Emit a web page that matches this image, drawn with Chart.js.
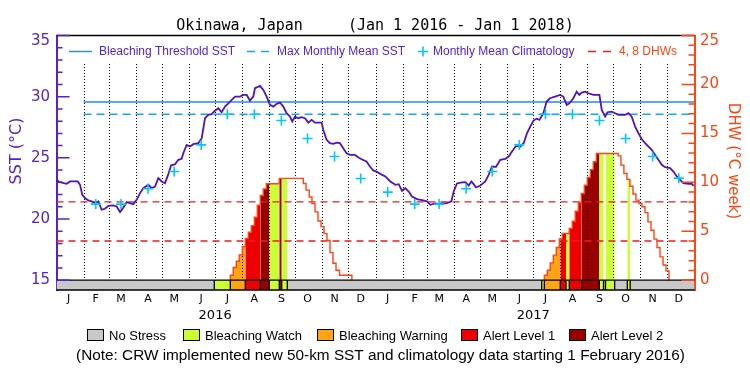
<!DOCTYPE html>
<html><head><meta charset="utf-8">
<script src="https://cdn.jsdelivr.net/npm/chart.js@4.4.1/dist/chart.umd.min.js"></script>
<style>html,body{margin:0;padding:0;background:#fff}canvas{display:block}</style>
</head><body>
<canvas id="c" width="750" height="375"></canvas>
<script>
// ---------------- data ----------------
const monthLetters = ['J','F','M','A','M','J','J','A','S','O','N','D','J','F','M','A','M','J','J','A','S','O','N','D'];
const monthStartDays = [0,31,60,91,121,152,182,213,244,274,305,335,366,397,425,456,486,517,547,578,609,639,670,700];
const yearLabels = ['2016','2017'];
const yearLabelDays = [182,547];
const sstTicks = [15,20,25,30,35];
const dhwTicks = [0,5,10,15,20,25];

// daily SST (days since 1 Jan 2016)
const sstDays = [0,4,11.7,15.5,24.3,27,29.6,32.7,36.5,40.3,44.2,48,51.8,55.6,59.5,65.2,69,72.9,76.7,80.5,84.3,88.1,92,95.8,99.6,105.4,109.2,113,116.8,120.7,124.5,128.3,131.4,136,139.8,143.6,145.5,149.3,153.2,157,162.7,166.6,168.5,170.4,174.2,178,181.8,185.7,189.5,193.3,199.1,204.8,210.5,214.4,218.2,222,225.8,227.7,233.5,237.3,241.1,244.9,248.8,252.6,256.4,260.2,264,267.9,270.5,273.6,277.4,281.2,285,288.9,292.7,296.5,304.2,306.1,309.9,313.7,317.5,321.4,325.2,329,332.8,336.6,342.4,346.2,350,355.7,359.6,363.4,367,371.5,377.3,383,388.8,392.6,396.4,400.2,404.1,407.9,413.6,419.4,425.1,428.9,434.7,438.5,442.3,448,453,455.7,459.5,465.3,469.1,472.9,476,478.6,481.3,486.3,492,495.8,499.7,504.3,509.2,515,518.8,522.6,527.2,532.2,536,539.8,543.5,547.3,550.9,554,558.6,562.4,566.2,572,577.7,581.5,585.4,588.4,593,596.8,599.9,602.6,606.4,610.2,616,622.9,625.6,629.4,632.1,637,640.9,644.7,652.4,656.2,660,663.9,667.7,671.5,675.3,679.2,683,686.8,690.6,694.5,698.3,704,707.8,711.7,715.5,719.3,725,728.9,731];
const sstValues = [23.20,23.01,22.88,23.07,23.07,22.80,21.98,21.71,21.52,21.44,21.30,21.44,20.76,20.84,21.08,21.11,21.03,20.57,20.95,21.38,21.30,21.22,21.57,22.12,22.52,22.80,22.52,22.66,23.34,23.07,22.93,23.67,24.37,24.48,24.84,24.92,25.38,26.06,25.93,26.12,26.20,26.61,27.42,28.24,28.51,28.57,28.85,29.05,28.73,29.19,29.60,30.01,30.01,30.14,30.14,29.68,30.01,30.69,30.88,30.55,30.01,29.33,29.19,29.41,29.52,29.19,28.65,28.37,27.97,28.37,28.24,28.32,28.24,27.88,28.10,27.88,27.88,27.28,26.47,26.20,26.14,26.25,26.20,25.79,25.38,25.24,25.24,25.05,24.89,24.70,24.29,23.97,23.88,23.69,23.48,23.07,22.80,22.85,22.31,22.52,22.25,21.84,21.63,21.54,21.44,21.16,21.27,21.22,21.27,21.30,21.44,22.25,22.91,22.99,23.01,22.74,23.07,22.85,22.58,22.74,23.07,23.61,24.29,24.27,24.84,24.92,25.11,25.52,25.98,25.93,26.20,27.01,27.55,28.05,28.20,28.10,28.65,29.60,29.87,30.01,30.14,30.01,29.33,29.46,29.87,30.41,30.14,30.33,30.41,30.28,30.14,30.14,28.92,28.37,28.73,28.78,28.65,28.51,28.51,28.65,28.37,27.56,27.01,26.52,26.20,25.92,25.65,25.24,24.84,24.43,24.24,24.16,23.88,23.48,23.20,22.93,22.88,22.88,22.71];

// monthly mean climatology (Feb 2016 .. Dec 2017, plotted mid-month)
const climMonthIndex = [1,2,3,4,5,6,7,8,9,10,11,12,13,14,15,16,17,18,19,20,21,22,23];
const climValues = [21.22,21.22,22.47,23.88,26.06,28.56,28.56,28.05,26.58,25.11,23.31,22.20,21.22,21.22,22.47,23.88,26.06,28.56,28.56,28.05,26.58,25.11,23.34];
const mmmSST = 28.56;
const thresholdSST = 29.56;
const thresholdStartDay = 31;
const dhwLevels = [4,8];

// degree heating weeks step function: day a new value starts, value
const dhwStepDays = [199.4,202.8,206.3,209.7,213.2,216.6,220.1,223.5,227.0,230.4,233.8,237.3,240.7,255.6,283.2,286.3,290.0,293.1,296.6,300.0,303.5,306.9,310.3,313.8,317.2,320.7,324.7,338.9,
  559.7,563.1,566.5,570.0,573.4,576.9,580.3,588.3,591.8,595.2,598.7,602.1,605.6,609.0,612.5,615.9,619.3,644.5,647.6,651.0,654.5,657.9,661.4,664.8,668.3,671.7,675.2,678.6,682.1,685.5,689.0,692.4,695.9,699.3,702.7];
const dhwStepValues = [0.51,1.30,1.94,2.59,3.44,4.26,4.90,5.58,6.44,7.67,8.66,9.33,9.85,10.40,9.88,9.20,8.50,7.84,6.98,6.05,5.47,4.76,4.05,2.82,1.73,1.02,0.51,0,
  0.51,1.02,1.77,2.56,3.34,4.22,4.77,5.28,6.03,7.05,7.94,8.86,9.71,10.50,11.30,12.10,12.95,12.70,11.76,10.90,10.30,9.60,8.80,8.18,7.84,7.50,6.90,5.96,5.10,4.20,3.34,2.38,1.56,0.95,0];

// bleaching alert status segments (1 watch, 2 warning, 3 alert 1, 4 alert 2)
const statusStart = [181,199.4,216.6,233.8,244.1,255.6,258.4, 556.7,559.7,578.0,584.6,588.3,602.6,622.8,629.9,654.9];
const statusEnd   = [199.4,216.6,233.8,244.1,255.6,258.4,264.8, 559.7,578.0,584.6,588.3,602.6,622.8,627.6,640.4,658.2];
const statusLevel = [1,2,3,4,1,4,1, 1,2,3,1,3,4,1,1,1];
const stressNames = ['No Stress','Bleaching Watch','Bleaching Warning','Alert Level 1','Alert Level 2'];

// ---------------- style ----------------
const stressColors = ['#c8c8c8','#ccff33','#ffa514','#ee0000','#990000'];
const PURPLE = '#5522cc', SSTLINE = '#5014be', ORANGE = '#ff4510';
const THR = '#1e8cf0', MMM = '#10a8ff', CLIM = '#00c8ff', DHWRED = '#ee1c1c';
const X_MAX = 732, SST_MIN = 14.2, DHW_MIN = -1;

function dhwAt(day){ let v = 0; for (let i=0;i<dhwStepDays.length;i++){ if (dhwStepDays[i] <= day) v = dhwStepValues[i]; else break; } return v; }

const datasets = [];
datasets.push({label:'climatology', data: climMonthIndex.map((m,i)=>({x: monthStartDays[m]+14, y: climValues[i]})), yAxisID:'sst',
  showLine:false, pointStyle:'cross', pointRadius:5, pointBorderWidth:1.6, pointBorderColor:CLIM, borderColor:CLIM, order:0});
datasets.push({label:'SST', data: sstDays.map((d,i)=>({x:d, y:sstValues[i]})), yAxisID:'sst', borderColor:SSTLINE, borderWidth:1.8, pointRadius:0, order:1});
datasets.push({label:'threshold', data:[{x:thresholdStartDay,y:thresholdSST},{x:X_MAX,y:thresholdSST}], yAxisID:'sst', borderColor:THR, borderWidth:1.4, pointRadius:0, order:2});
datasets.push({label:'mmm', data:[{x:thresholdStartDay,y:mmmSST},{x:X_MAX,y:mmmSST}], yAxisID:'sst', borderColor:MMM, borderWidth:1.4, borderDash:[8,5], pointRadius:0, order:2});
// DHW step line
const dhwLine = []; let prevV = 0;
dhwStepDays.forEach((d,i)=>{ const v = dhwStepValues[i]; if (prevV === 0) dhwLine.push({x:d,y:0}); dhwLine.push({x:d,y:v}); if (v === 0) dhwLine.push({x:d,y:null}); prevV = v; });
datasets.push({label:'DHW', data: dhwLine, yAxisID:'dhw', stepped:true, borderColor:ORANGE, borderWidth:1.4, pointRadius:0, order:3});
dhwLevels.forEach((lv,k)=>{
  datasets.push({label:'dhw'+lv, data:[{x:0,y:lv},{x:X_MAX,y:lv}], yAxisID:'dhw', borderColor:DHWRED, borderWidth:1.4, borderDash:[7,5], pointRadius:0, order:4+k*0.1, gridHere: k===1});
});
// status fills under the DHW curve and status bar
statusStart.forEach((s,i)=>{
  const e = statusEnd[i];
  const pts = [{x:s, y:dhwAt(s)}];
  dhwStepDays.forEach((d,j)=>{ if (d > s && d < e) pts.push({x:d, y:dhwStepValues[j]}); });
  pts.push({x:e, y:pts[pts.length-1].y});
  datasets.push({label:'fill'+i, data:pts, yAxisID:'dhw', stepped:true, fill:'origin', backgroundColor:stressColors[statusLevel[i]], borderColor:'rgba(0,0,0,0)', borderWidth:0, pointRadius:0, order:10});
  datasets.push({label:'bar'+i, data:[{x:s,y:0},{x:e,y:0}], yAxisID:'dhw', fill:{value:DHW_MIN}, backgroundColor:stressColors[statusLevel[i]], borderColor:'rgba(0,0,0,0)', borderWidth:0, pointRadius:0, order:11});
});
datasets.push({label:'nostress', data:[{x:0,y:0},{x:X_MAX,y:0}], yAxisID:'dhw', fill:{value:DHW_MIN}, backgroundColor:stressColors[0], borderColor:'rgba(0,0,0,0)', borderWidth:0, pointRadius:0, order:12});

function drawMonthLines(chart){
  const {ctx, scales:{x, dhw}} = chart;
  const y1 = dhw.getPixelForValue(0);
  ctx.save(); ctx.strokeStyle = '#000'; ctx.lineWidth = 1; ctx.setLineDash([1,2]);
  monthStartDays.forEach(d=>{ if (d === 0) return; const px = Math.round(x.getPixelForValue(d)) + 0.5;
    ctx.beginPath(); ctx.moveTo(px, 64); ctx.lineTo(px, y1); ctx.stroke(); });
  ctx.restore();
}

const deco = {
  id:'deco',
  beforeDatasetDraw(chart, args){ if (chart.data.datasets[args.index].gridHere) drawMonthLines(chart); },
  afterDatasetsDraw(chart){
    const {ctx, chartArea:a, scales:{x, sst, dhw}} = chart;
    ctx.save();
    // status bar outlines
    const yT = dhw.getPixelForValue(0), yB = dhw.getPixelForValue(DHW_MIN);
    ctx.strokeStyle = '#000'; ctx.lineWidth = 1.3;
    ctx.beginPath(); ctx.moveTo(a.left, yT); ctx.lineTo(a.right, yT); ctx.moveTo(a.left, yB); ctx.lineTo(a.right, yB); ctx.stroke();
    ctx.beginPath();
    statusStart.forEach((s,i)=>{ [s, statusEnd[i]].forEach(d=>{ const px = x.getPixelForValue(d); ctx.moveTo(px, yT); ctx.lineTo(px, yB); }); });
    ctx.stroke();
    // top frame
    ctx.lineWidth = 1.5; ctx.beginPath(); ctx.moveTo(a.left, a.top); ctx.lineTo(a.right, a.top); ctx.stroke();
    // inward ticks
    ctx.lineWidth = 1.5; ctx.strokeStyle = PURPLE; ctx.beginPath();
    for (let v = 15; v <= 35; v++){ const py = sst.getPixelForValue(v); ctx.moveTo(a.left, py); ctx.lineTo(a.left + (v % 5 === 0 ? 13 : 6), py); }
    ctx.stroke();
    ctx.strokeStyle = ORANGE; ctx.beginPath();
    for (let v = 0; v <= 25; v++){ const py = dhw.getPixelForValue(v); ctx.moveTo(a.right, py); ctx.lineTo(a.right - (v % 5 === 0 ? 13 : 6), py); }
    ctx.stroke();
    ctx.restore();
  },
  afterDraw(chart){
    const {ctx, scales:{x}} = chart;
    ctx.save();
    // title
    ctx.fillStyle = '#000'; ctx.font = '15px "DejaVu Sans Mono"'; ctx.textAlign = 'center'; ctx.textBaseline = 'alphabetic';
    ctx.fillText('Okinawa, Japan     (Jan 1 2016 - Jan 1 2018)', 375, 29.5);
    // top legend
    const ly = 51.5;
    ctx.textAlign = 'left'; ctx.textBaseline = 'middle'; ctx.font = '12px "Liberation Sans"';
    ctx.lineWidth = 1.4;
    ctx.strokeStyle = THR; ctx.beginPath(); ctx.moveTo(69, ly); ctx.lineTo(92, ly); ctx.stroke();
    ctx.fillStyle = PURPLE; ctx.fillText('Bleaching Threshold SST', 99, ly);
    ctx.strokeStyle = MMM; ctx.setLineDash([8,6]); ctx.beginPath(); ctx.moveTo(247, ly); ctx.lineTo(270, ly); ctx.stroke(); ctx.setLineDash([]);
    ctx.fillText('Max Monthly Mean SST', 277, ly);
    ctx.strokeStyle = CLIM; ctx.lineWidth = 1.6; ctx.beginPath(); ctx.moveTo(418, ly); ctx.lineTo(428, ly); ctx.moveTo(423, ly-5); ctx.lineTo(423, ly+5); ctx.stroke();
    ctx.fillText('Monthly Mean Climatology', 433, ly);
    ctx.lineWidth = 1.4; ctx.strokeStyle = DHWRED; ctx.setLineDash([8,7]); ctx.beginPath(); ctx.moveTo(588, ly); ctx.lineTo(612, ly); ctx.stroke(); ctx.setLineDash([]);
    ctx.fillStyle = ORANGE; ctx.fillText('4, 8 DHWs', 619, ly);
    // axis titles
    ctx.font = '16px "DejaVu Sans"'; ctx.textAlign = 'center'; ctx.textBaseline = 'middle';
    ctx.save(); ctx.translate(17, 151); ctx.rotate(-Math.PI/2); ctx.fillStyle = PURPLE; ctx.fillText('SST (\u00B0C)', 0, 0); ctx.restore();
    ctx.save(); ctx.translate(733, 161); ctx.rotate(Math.PI/2); ctx.fillStyle = ORANGE; ctx.font = '15px "DejaVu Sans"'; ctx.fillText('DHW (\u00B0C week)', 0, 0); ctx.restore();
    // year labels
    ctx.fillStyle = '#000'; ctx.font = '13px "DejaVu Sans"';
    yearLabels.forEach((t,i)=> ctx.fillText(t, x.getPixelForValue(yearLabelDays[i]), 315.5));
    // bottom legend
    const bx = [87,183,317,461,569];
    ctx.font = '13px "Liberation Sans"'; ctx.textAlign = 'left';
    stressNames.forEach((n,i)=>{
      ctx.fillStyle = stressColors[i]; ctx.fillRect(bx[i], 329, 16, 11);
      ctx.strokeStyle = '#000'; ctx.lineWidth = 1; ctx.strokeRect(bx[i]+0.5, 329.5, 16, 11);
      ctx.fillStyle = '#000'; ctx.fillText(n, bx[i] + 22, 336);
    });
    // note
    const note = '(Note: CRW implemented new 50-km SST and climatology data starting 1 February 2016)';
    ctx.font = '13px "Liberation Sans"'; const w = ctx.measureText(note).width;
    ctx.font = (13 * 609 / w).toFixed(2) + 'px "Liberation Sans"';
    ctx.textAlign = 'center'; ctx.fillText(note, 380.5, 355.5);
    ctx.restore();
  }
};

new Chart(document.getElementById('c'), {
  type: 'line',
  data: { datasets },
  options: {
    responsive:false, animation:false, devicePixelRatio:1,
    layout:{ padding:{ top:35.5, left:0, right:0, bottom:0 } },
    plugins:{ legend:{display:false}, tooltip:{enabled:false}, title:{display:false} },
    elements:{ line:{ tension:0 } },
    scales:{
      x:{ type:'linear', min:0, max:X_MAX, offset:false,
        grid:{display:false, drawTicks:false}, border:{display:false},
        afterFit: s => { s.height = 85; },
        afterBuildTicks: s => { s.ticks = monthStartDays.map(d => ({value: d + 14})); },
        ticks:{ autoSkip:false, maxRotation:0, minRotation:0, padding:3, color:'#000', font:{family:'DejaVu Sans', size:11},
          callback: (v, i) => monthLetters[i] } },
      sst:{ type:'linear', position:'left', min:SST_MIN, max:35,
        grid:{display:false, drawTicks:false}, border:{display:true, color:PURPLE, width:2},
        afterFit: s => { s.width = 56.5; },
        afterBuildTicks: s => { s.ticks = sstTicks.map(v => ({value:v})); },
        ticks:{ padding:6.5, color:PURPLE, font:{family:'DejaVu Sans', size:15, lineHeight:'11px'},
          callback: v => v === sstTicks[sstTicks.length-1] ? ['', String(v)] : String(v) } },
      dhw:{ type:'linear', position:'right', min:DHW_MIN, max:25,
        grid:{display:false, drawTicks:false}, border:{display:true, color:ORANGE, width:2},
        afterFit: s => { s.width = 55.5; },
        afterBuildTicks: s => { s.ticks = dhwTicks.map(v => ({value:v})); },
        ticks:{ padding:5.5, color:ORANGE, font:{family:'DejaVu Sans', size:15, lineHeight:'11px'},
          callback: v => v === dhwTicks[dhwTicks.length-1] ? ['', String(v)] : String(v) } }
    }
  },
  plugins:[deco]
});
</script>
</body></html>
